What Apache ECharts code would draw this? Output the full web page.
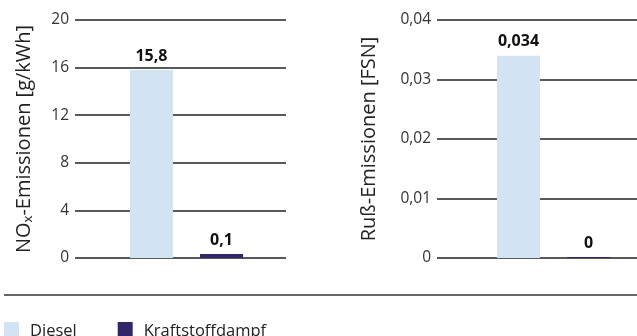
<!DOCTYPE html>
<html><head><meta charset="utf-8">
<script src="https://cdn.jsdelivr.net/npm/echarts@6/dist/echarts.min.js"></script>
<style>html,body{margin:0;padding:0;background:#fff}#c{width:637px;height:336px}</style>
</head><body><div id="c"></div>
<script>
const seriesNames = ['Diesel', 'Kraftstoffdampf'];
const noxValues = [15.8, 0.1];
const sootValues = [0.034, 0];
const noxTicks = { min: 0, max: 20, interval: 4 };
const sootTicks = { min: 0, max: 0.04, interval: 0.01 };
const noxTitle = 'NOₓ-Emissionen [g/kWh]';
const sootTitle = 'Ruß-Emissionen [FSN]';
const colors = ['#d2e3f4', '#2f2767'];

const font = '"Open Sans", "Noto Sans", sans-serif';
const fmt = v => String(v).replace('.', ',');
const gridTop = 20, gridHeight = 238;

const chart = echarts.init(document.getElementById('c'), null, { renderer: 'canvas' });
const axisGrid = (left, width) => ({ left, width, top: gridTop, height: gridHeight });
const yAxisVisible = (g, t, name, gap) => ({
  type: 'value', gridIndex: g, min: t.min, max: t.max, interval: t.interval,
  name, nameLocation: 'middle', nameGap: gap, nameRotate: 90,
  nameTextStyle: { fontFamily: font, fontSize: 20, color: '#222' },
  axisLine: { show: false }, axisTick: { show: false },
  axisLabel: { fontFamily: font, fontSize: 15.5, color: '#333', margin: 6, formatter: fmt },
  splitLine: { show: true, lineStyle: { color: '#222', width: 1.5 } }
});
const yAxisHidden = (g, t) => ({
  type: 'value', gridIndex: g, min: t.min, max: t.max, interval: t.interval, show: false,
  splitLine: { show: false }
});
const xAxisHidden = (g) => ({ type: 'category', gridIndex: g, data: [''], show: false });

const labelStyle = {
  show: true, position: 'top', distance: 6, fontFamily: font, fontSize: 16,
  fontWeight: 'bold', color: '#111', formatter: p => fmt(p.value)
};
const mkBar = (i, axisIdx, vals, minH) => ({
  type: 'bar', name: seriesNames[i], xAxisIndex: axisIdx, yAxisIndex: axisIdx,
  data: [vals[i]], barWidth: 43, barGap: '63%', barMinHeight: minH,
  itemStyle: { color: colors[i] }, label: labelStyle, z: 5
});

chart.setOption({
  animation: false,
  grid: [axisGrid(75, 211), axisGrid(120, 133), axisGrid(437, 200), axisGrid(484, 139)],
  xAxis: [xAxisHidden(0), xAxisHidden(1), xAxisHidden(2), xAxisHidden(3)],
  yAxis: [
    yAxisVisible(0, noxTicks, noxTitle, 41),
    yAxisHidden(1, noxTicks),
    yAxisVisible(2, sootTicks, sootTitle, 58),
    yAxisHidden(3, sootTicks)
  ],
  legend: {
    data: seriesNames, left: -1, top: 317, itemWidth: 15, itemHeight: 18, itemGap: 41,
    icon: 'rect', textStyle: { fontFamily: font, fontSize: 16.5, color: '#222', padding: [0, 0, 0, 6] }
  },
  graphic: [{
    type: 'line', shape: { x1: 4, y1: 295, x2: 637, y2: 295 },
    style: { stroke: '#333', lineWidth: 1.5 }
  }],
  series: [
    mkBar(0, 1, noxValues, 0), mkBar(1, 1, noxValues, 4),
    mkBar(0, 3, sootValues, 0), mkBar(1, 3, sootValues, 1)
  ]
});
</script></body></html>
